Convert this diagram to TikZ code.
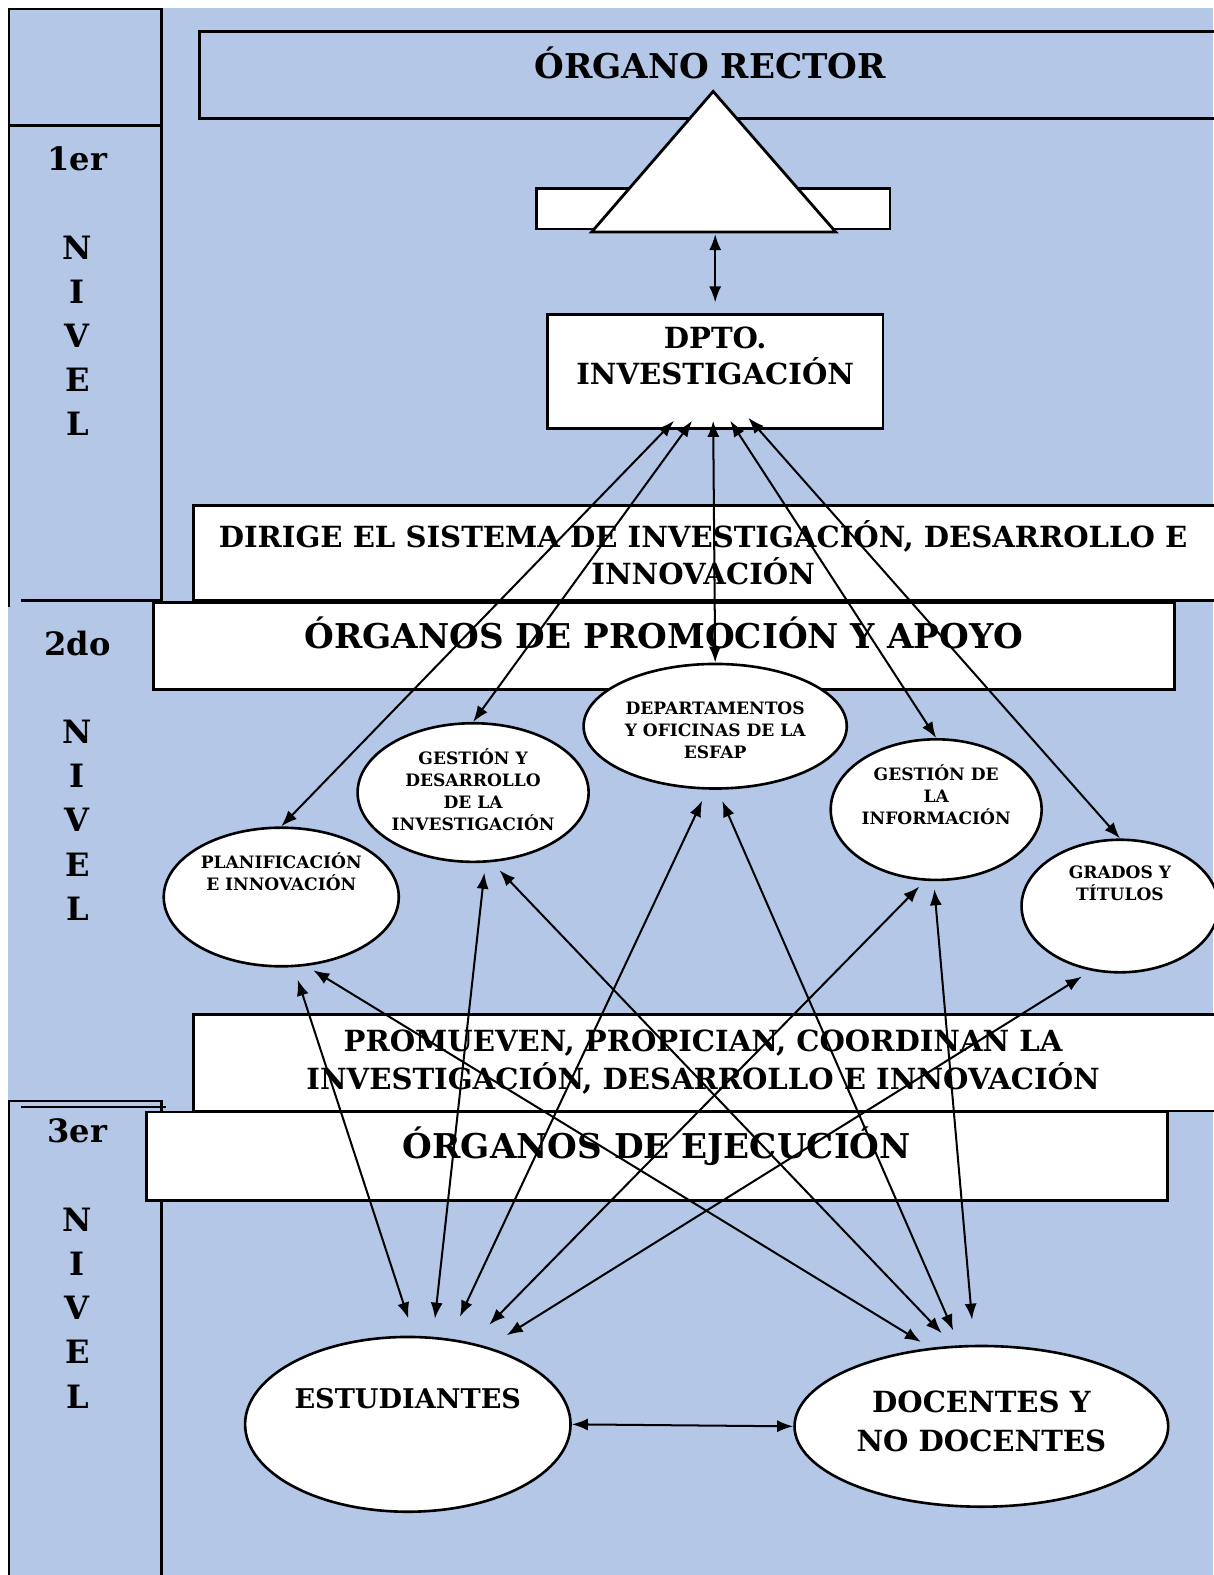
\documentclass[tikz,border=0pt]{standalone}
\usepackage{fontspec}
\setmainfont{DejaVu Serif}
\usetikzlibrary{shapes.geometric,arrows.meta}
\definecolor{fondo}{RGB}{180,199,231}
\tikzset{caja/.style={draw,fill=white,line width=2.8pt}}
\tikzset{elip/.style={ellipse,draw,fill=white,line width=2.6pt,inner sep=0pt}}
\tikzset{rotulo/.style={align=center,inner sep=0pt}}
\tikzset{dbl/.style={<->,>={Latex[length=16pt,width=12pt]},line width=2pt}}
\newcommand{\tam}[2]{\fontsize{#1}{#2}\selectfont}

\begin{document}
\begin{tikzpicture}[x=1pt,y=-1pt]
\useasboundingbox (0,0) rectangle (1208,1568);
\fill[fondo] (8,8) rectangle (1208,1568);

% columna de niveles
\draw[line width=2.8pt] (9,9) rectangle (161,125);
\draw[line width=2.8pt] (9,604) -- (9,125) -- (161,125) -- (161,600);
\draw[line width=2.8pt] (21,598) -- (161,598);
\draw[line width=2.8pt] (9,1568) -- (9,1096) -- (161,1096) -- (161,1568);
\draw[line width=2.8pt] (21,1102) -- (165,1102);
\node[rotulo,font=\bfseries\tam{32}{44}] (niv1) at (77,290) {1er\\[44pt]N\\I\\V\\E\\L};
\node[rotulo,font=\bfseries\tam{32}{44}] (niv2) at (77,772) {2do\\[44pt]N\\I\\V\\E\\L};
\node[rotulo,font=\bfseries\tam{32}{44}] (niv3) at (77,1258) {3er\\[44pt]N\\I\\V\\E\\L};

% 1er nivel
\draw[line width=2.8pt] (199,31) rectangle (1230,118);
\node[rotulo,font=\bfseries\tam{34}{40}] (rector) at (707,63) {ÓRGANO RECTOR};
\node[caja,minimum width=352pt,minimum height=40pt] (barra) at (710,208) {};
\filldraw[fill=white,line width=2.8pt] (589,231) -- (710,91) -- (832,231) -- cycle;
\coordinate (tribase) at (712,231);
\node[caja,minimum width=334pt,minimum height=113pt] (dpto) at (712,370) {};
\node[rotulo,font=\bfseries\tam{29}{36}] (dptotxt) at (712,354) {DPTO.\\INVESTIGACIÓN};
\draw[caja] (193,503) rectangle (1230,598);
\node[rotulo,font=\bfseries\tam{29}{37}] (dirige) at (700,550) {DIRIGE EL SISTEMA DE INVESTIGACIÓN, DESARROLLO E\\INNOVACIÓN};

% 2do nivel
\node[caja,minimum width=1017pt,minimum height=87pt] (promo) at (661,643) {};
\node[rotulo,font=\bfseries\tam{34}{40}] (promotxt) at (661,630) {ÓRGANOS DE PROMOCIÓN Y APOYO};
\node[elip,minimum width=262pt,minimum height=124pt] (dept) at (712,723) {};
\node[rotulo,font=\bfseries\tam{17}{22}] (depttxt) at (712,727) {DEPARTAMENTOS\\Y OFICINAS DE LA\\ESFAP};
\node[elip,minimum width=230pt,minimum height=138pt] (gesty) at (471,789) {};
\node[rotulo,font=\bfseries\tam{17}{22}] (gestytxt) at (471,786) {GESTIÓN Y\\DESARROLLO\\DE LA\\INVESTIGACIÓN};
\node[elip,minimum width=234pt,minimum height=138pt] (planif) at (280,893) {};
\node[rotulo,font=\bfseries\tam{17}{22}] (planiftxt) at (280,868) {PLANIFICACIÓN\\E INNOVACIÓN};
\node[elip,minimum width=210pt,minimum height=140pt] (info) at (932,806) {};
\node[rotulo,font=\bfseries\tam{17}{22}] (infotxt) at (932,791) {GESTIÓN DE\\LA\\INFORMACIÓN};
\node[elip,minimum width=196pt,minimum height=132pt] (grados) at (1115,902) {};
\node[rotulo,font=\bfseries\tam{17}{22}] (gradostxt) at (1115,879) {GRADOS Y\\TÍTULOS};
\draw[caja] (193,1010) rectangle (1230,1106);
\node[rotulo,font=\bfseries\tam{29}{38}] (promueven) at (700,1057) {PROMUEVEN, PROPICIAN, COORDINAN LA\\INVESTIGACIÓN, DESARROLLO E INNOVACIÓN};

% 3er nivel
\node[caja,minimum width=1016pt,minimum height=88pt] (ejec) at (654,1151) {};
\node[rotulo,font=\bfseries\tam{34}{40}] (ejectxt) at (654,1141) {ÓRGANOS DE EJECUCIÓN};
\node[elip,minimum width=324pt,minimum height=174pt] (est) at (406,1418) {};
\node[rotulo,font=\bfseries\tam{27}{32}] (esttxt) at (406,1392) {ESTUDIANTES};
\node[elip,minimum width=372pt,minimum height=160pt] (doc) at (977,1420) {};
\node[rotulo,font=\bfseries\tam{29}{38}] (doctxt) at (977,1415) {DOCENTES Y\\NO DOCENTES};

% flechas
\draw[dbl] ([yshift=-2pt]tribase) -- ([yshift=11pt]dpto.north);
\draw[dbl] ([xshift=-41pt,yshift=9pt]dpto.south) -- (planif.north);
\draw[dbl] ([xshift=-23pt,yshift=9pt]dpto.south) -- (gesty.north);
\draw[dbl] ([xshift=-2pt,yshift=9pt]dpto.south) -- (dept.north);
\draw[dbl] ([xshift=15pt,yshift=9pt]dpto.south) -- (info.north);
\draw[dbl] ([xshift=33pt,yshift=12pt]dpto.south) -- (grados.north);

\draw[dbl,shorten <=13pt,shorten >=18pt] (planif.280) -- (est.86);
\draw[dbl,shorten <=10pt,shorten >=18pt] (gesty.280) -- (est.74);
\draw[dbl,shorten <=12pt,shorten >=24pt] (dept.263) -- (est.64);
\draw[dbl,shorten <=8pt,shorten >=25pt] (info.261) -- (est.52);
\draw[dbl,shorten <=11pt,shorten >=22pt] (grados.246) -- (est.44);
\draw[dbl,shorten <=8pt,shorten >=11pt] (planif.290) -- (doc.123);
\draw[dbl,shorten <=11pt,shorten >=17pt] (gesty.285) -- (doc.109);
\draw[dbl,shorten <=12pt,shorten >=16pt] (dept.272) -- (doc.105);
\draw[dbl,shorten <=8pt,shorten >=25pt] (info.268) -- (doc.95);
\draw[dbl] (est.east) -- (doc.west);
\end{tikzpicture}
\end{document}
